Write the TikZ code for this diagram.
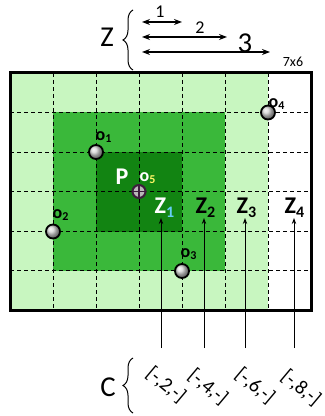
\documentclass[tikz,border=0pt]{standalone}
\usepackage{fontspec}
\setmainfont{Carlito}
\usetikzlibrary{arrows.meta,decorations.pathreplacing}
\definecolor{lightgr}{RGB}{200,246,192}
\definecolor{midgr}{RGB}{58,184,58}
\definecolor{darkgr}{RGB}{18,132,18}
\definecolor{crossc}{RGB}{60,30,60}

\begin{document}
\begin{tikzpicture}[x=0.5pt, y=-0.5pt,
  gridline/.style={dash pattern=on 2pt off 1.5pt, line width=0.45pt},
  ball/.style={circle, draw=black, line width=0.9pt, ball color=gray!35, minimum size=7pt, inner sep=0pt},
  olabel/.style={font=\small\bfseries, inner sep=0pt},
  zlabel/.style={font=\large\bfseries, inner sep=0pt},
  clabel/.style={font=\normalsize, rotate=-40, inner sep=0pt},
  span/.style={{Stealth[length=4pt,width=3pt]}-{Stealth[length=4pt,width=3pt]}, line width=0.6pt},
  up/.style={-{Stealth[length=3pt,width=2.2pt]}, line width=0.5pt},
  curly/.style={decorate, decoration={brace, amplitude=5pt}, line width=0.5pt}]
\useasboundingbox (0,0) rectangle (325,416);

% zone colours
\fill[lightgr] (10,73) rectangle (268,310);
\fill[midgr] (53,112.5) rectangle (225,270.5);
\fill[darkgr] (96,152) rectangle (182,231.5);

% dashed grid
\foreach \i in {1,...,6}
  \draw[gridline] ({10+43*\i},73) -- ({10+43*\i},310);
\foreach \j in {1,...,5}
  \draw[gridline] (10,{73+39.5*\j}) -- (311,{73+39.5*\j});
\draw[line width=1.5pt] (10,73) rectangle (311,310);

% objects
\node[ball] (o1) at (96,152) {};
\node[ball] (o2) at (53,231.5) {};
\node[ball] (o3) at (182,271) {};
\node[ball] (o4) at (268,112.5) {};
\node[circle, draw=crossc, line width=1pt, fill=gray!55, minimum size=6.5pt, inner sep=0pt] (o5) at (139,191.5) {};
\draw[crossc, line width=0.8pt] (o5.north) -- (o5.south) (o5.west) -- (o5.east);

\node[olabel] (lo1) at (104,137) {o\textsubscript{1}};
\node[olabel] (lo2) at (61,215) {o\textsubscript{2}};
\node[olabel] (lo3) at (189,254) {o\textsubscript{3}};
\node[olabel] (lo4) at (277,104) {o\textsubscript{4}};
\node[olabel, white] (lo5) at (148,178) {o\textsubscript{\color{yellow!60!white}5}};
\node[zlabel, white] (p) at (122,177) {P};

% zones
\node[zlabel, white] (z1) at (165,208) {Z\textsubscript{\color{cyan!60!white}1}};
\node[zlabel] (z2) at (206,208) {Z\textsubscript{2}};
\node[zlabel] (z3) at (247,208) {Z\textsubscript{3}};
\node[zlabel] (z4) at (295,208) {Z\textsubscript{4}};

\coordinate (t1) at (161,348);
\coordinate (t2) at (204,348);
\coordinate (t3) at (245,348);
\coordinate (t4) at (294,348);
\draw[up] (t1) -- (t1 |- z1.south);
\draw[up] (t2) -- (t2 |- z2.south);
\draw[up] (t3) -- (t3 |- z3.south);
\draw[up] (t4) -- (t4 |- z4.south);

% codes
\node[clabel] (c1) at (166,385) {[-,2,-]};
\node[clabel] (c2) at (208,387) {[-,4,-]};
\node[clabel] (c3) at (255,386) {[-,6,-]};
\node[clabel] (c4) at (301,388) {[-,8,-]};
\draw[curly] (133,413) -- (133,358);
\node[font=\Large] (cc) at (108,387) {C};

% zone sizes
\coordinate (a0) at (142,22);
\coordinate (a1) at (182,22);
\coordinate (b0) at (142,37);
\coordinate (b1) at (227,37);
\coordinate (d0) at (142,52);
\coordinate (d1) at (270,52);
\draw[span] (a0) -- (a1);
\draw[span] (b0) -- (b1);
\draw[span] (d0) -- (d1);
\node[font=\small] (n1) at (160,12) {1};
\node[font=\small] (n2) at (200,28) {2};
\node[font=\Large] (n3) at (245,43) {3};
\node[font=\scriptsize] (n4) at (293,62) {7x6};
\draw[curly] (133,70) -- (133,10);
\node[font=\Large] (zz) at (107,37) {Z};
\end{tikzpicture}
\end{document}
